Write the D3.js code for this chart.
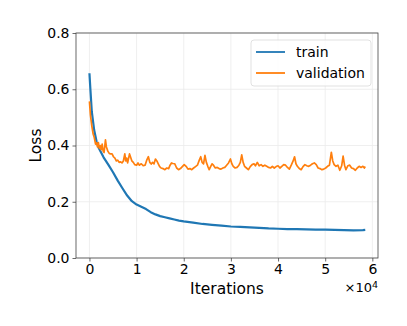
<!DOCTYPE html>
<html>
<head>
<meta charset="utf-8">
<script src="https://cdn.jsdelivr.net/npm/d3@7"></script>
<style>
  body { margin: 0; background: #fff; }
  text { font-family: "DejaVu Sans", sans-serif; fill: #000; }
</style>
</head>
<body>
<svg width="407" height="326"></svg>
<script>
// loss curves: [iteration, loss]
var train = [
  [0, 0.657], [200, 0.60], [500, 0.52], [1000, 0.455], [1500, 0.415], [2000, 0.39],
  [3000, 0.358], [4000, 0.332], [5000, 0.305], [6000, 0.275], [7000, 0.248],
  [8000, 0.222], [9000, 0.202], [10000, 0.19], [11000, 0.182], [12000, 0.174],
  [13000, 0.163], [14000, 0.155], [15000, 0.149], [16000, 0.145], [17000, 0.141],
  [18000, 0.137], [19000, 0.133], [20000, 0.13], [22000, 0.126], [24000, 0.121],
  [26000, 0.118], [28000, 0.115], [30000, 0.112], [32000, 0.111], [34000, 0.109],
  [36000, 0.107], [38000, 0.105], [40000, 0.104], [42000, 0.103], [44000, 0.103],
  [46000, 0.102], [48000, 0.101], [50000, 0.101], [52000, 0.1], [54000, 0.099],
  [56000, 0.098], [58000, 0.099], [58500, 0.1]
];

var validation = [
  [0, 0.557], [200, 0.51], [500, 0.47], [800, 0.44], [1000, 0.43], [1300, 0.405],
  [1500, 0.41], [1700, 0.395], [1900, 0.41], [2100, 0.39], [2300, 0.40], [2500, 0.385],
  [2700, 0.405], [2900, 0.38], [3100, 0.375], [3400, 0.42], [3600, 0.395], [3900, 0.38],
  [4200, 0.372], [4500, 0.37], [4800, 0.37], [5100, 0.36], [5400, 0.355], [5700, 0.345],
  [6000, 0.348], [6300, 0.34], [6600, 0.342], [6900, 0.338], [7200, 0.345], [7500, 0.37],
  [7700, 0.345], [7900, 0.355], [8100, 0.338], [8500, 0.37], [8700, 0.36], [9000, 0.345],
  [9300, 0.34], [9600, 0.332], [10000, 0.33], [10300, 0.338], [10600, 0.33], [11000, 0.335],
  [11400, 0.328], [11800, 0.33], [12200, 0.35], [12500, 0.36], [12800, 0.34], [13100, 0.334],
  [13400, 0.34], [13700, 0.335], [14000, 0.352], [14300, 0.345], [14600, 0.335], [14900, 0.325],
  [15200, 0.32], [15600, 0.318], [16000, 0.314], [16400, 0.32], [16800, 0.318], [17100, 0.33],
  [17400, 0.338], [17700, 0.336], [18100, 0.335], [18500, 0.32], [18900, 0.314], [19300, 0.318],
  [19700, 0.325], [20100, 0.332], [20500, 0.326], [20900, 0.316], [21300, 0.318], [21700, 0.314],
  [22100, 0.32], [22500, 0.325], [22900, 0.33], [23300, 0.348], [23600, 0.36], [23900, 0.34],
  [24200, 0.335], [24500, 0.365], [24800, 0.34], [25100, 0.326], [25400, 0.314], [25700, 0.325],
  [26000, 0.335], [26300, 0.33], [26700, 0.32], [27100, 0.322], [27500, 0.318], [27900, 0.316],
  [28300, 0.32], [28700, 0.322], [29100, 0.33], [29500, 0.338], [29900, 0.352], [30200, 0.335],
  [30500, 0.326], [30900, 0.32], [31300, 0.322], [31700, 0.33], [32000, 0.34], [32300, 0.367],
  [32600, 0.34], [32900, 0.326], [33300, 0.32], [33700, 0.314], [34100, 0.325], [34500, 0.332],
  [34900, 0.335], [35200, 0.328], [35600, 0.34], [36000, 0.328], [36400, 0.332], [36800, 0.326],
  [37200, 0.33], [37600, 0.326], [38000, 0.322], [38400, 0.32], [38800, 0.326], [39200, 0.32],
  [39600, 0.325], [40000, 0.328], [40400, 0.32], [40800, 0.326], [41200, 0.332], [41600, 0.33],
  [42000, 0.322], [42400, 0.316], [42800, 0.33], [43200, 0.345], [43500, 0.36], [43800, 0.335],
  [44100, 0.326], [44500, 0.318], [44900, 0.314], [45300, 0.325], [45700, 0.332], [46100, 0.328],
  [46500, 0.326], [46900, 0.33], [47300, 0.335], [47700, 0.338], [48100, 0.332], [48500, 0.32],
  [48900, 0.318], [49300, 0.314], [49700, 0.316], [50100, 0.32], [50500, 0.326], [50900, 0.33],
  [51300, 0.376], [51600, 0.345], [51900, 0.332], [52300, 0.326], [52700, 0.33], [53100, 0.312],
  [53500, 0.328], [53800, 0.362], [54100, 0.33], [54400, 0.314], [54800, 0.328], [55200, 0.33],
  [55600, 0.32], [56000, 0.318], [56400, 0.312], [56800, 0.32], [57200, 0.326], [57600, 0.322],
  [58000, 0.326], [58300, 0.32], [58500, 0.325]
];

var xTicks = [0, 10000, 20000, 30000, 40000, 50000, 60000];
var yTicks = [0, 0.2, 0.4, 0.6, 0.8];
var seriesNames = ["train", "validation"];
var colors = ["#1f77b4", "#ff7f0e"];

var svg = d3.select("svg"),
    margin = {top: 33, right: 29, bottom: 68, left: 76},
    width = +svg.attr("width") - margin.left - margin.right,
    height = +svg.attr("height") - margin.top - margin.bottom,
    g = svg.append("g").attr("transform", "translate(" + margin.left + "," + margin.top + ")");

var x = d3.scaleLinear().domain([-2850, 61200]).range([0, width]),
    y = d3.scaleLinear().domain([0, 0.8]).range([height, 0]);

// grid
g.append("g").selectAll("line")
  .data(xTicks).enter().append("line")
    .attr("x1", function(d) { return x(d); }).attr("x2", function(d) { return x(d); })
    .attr("y1", 0).attr("y2", height)
    .attr("stroke", "#ebebeb").attr("stroke-width", 0.8);
g.append("g").selectAll("line")
  .data(yTicks).enter().append("line")
    .attr("y1", function(d) { return y(d); }).attr("y2", function(d) { return y(d); })
    .attr("x1", 0).attr("x2", width)
    .attr("stroke", "#ebebeb").attr("stroke-width", 0.8);

var line = d3.line()
    .x(function(d) { return x(d[0]); })
    .y(function(d) { return y(d[1]); });

[train, validation].forEach(function(s, i) {
  g.append("path")
    .datum(s)
    .attr("fill", "none")
    .attr("stroke", colors[i])
    .attr("stroke-width", i === 0 ? 2.2 : 1.7)
    .attr("stroke-linejoin", "round")
    .attr("d", line);
});

// axes
var xAxis = g.append("g")
    .attr("transform", "translate(0," + height + ")")
    .call(d3.axisBottom(x).tickValues(xTicks).tickSize(3.5).tickPadding(3)
      .tickFormat(function(d) { return d / 10000; }));
var yAxis = g.append("g")
    .call(d3.axisLeft(y).tickValues(yTicks).tickSize(3.5).tickPadding(3)
      .tickFormat(d3.format(".1f")));
[xAxis, yAxis].forEach(function(a) {
  a.select(".domain").remove();
  a.selectAll(".tick line").attr("stroke", "#444").attr("stroke-width", 0.8);
  a.selectAll(".tick text").style("font-size", "14px").attr("fill", "#000");
});

g.append("rect")
    .attr("width", width).attr("height", height)
    .attr("fill", "none").attr("stroke", "#444").attr("stroke-width", 0.8);

// labels
svg.append("text")
    .attr("x", margin.left + width / 2).attr("y", 294)
    .attr("text-anchor", "middle")
    .style("font-size", "15.5px")
    .text("Iterations");
svg.append("text")
    .attr("transform", "translate(41," + (margin.top + height / 2) + ") rotate(-90)")
    .attr("text-anchor", "middle")
    .style("font-size", "15.5px")
    .text("Loss");
var offset = svg.append("text")
    .attr("x", 378).attr("y", 292)
    .attr("text-anchor", "end")
    .style("font-size", "13px");
offset.append("tspan").text("\u00d710");
offset.append("tspan").attr("dy", -4.5).style("font-size", "9.5px").text("4");

// legend
var legend = svg.append("g").attr("transform", "translate(251,40)");
legend.append("rect")
    .attr("width", 120).attr("height", 46).attr("rx", 3)
    .attr("fill", "#fff").attr("fill-opacity", 0.8)
    .attr("stroke", "#d9d9d9").attr("stroke-width", 0.8);
seriesNames.forEach(function(name, i) {
  var row = legend.append("g").attr("transform", "translate(0," + (12 + i * 21) + ")");
  row.append("line")
    .attr("x1", 5).attr("x2", 34)
    .attr("stroke", colors[i]).attr("stroke-width", 1.8);
  row.append("text")
    .attr("x", 45).attr("dy", "0.35em")
    .style("font-size", "14px")
    .text(name);
});
</script>
</body>
</html>
